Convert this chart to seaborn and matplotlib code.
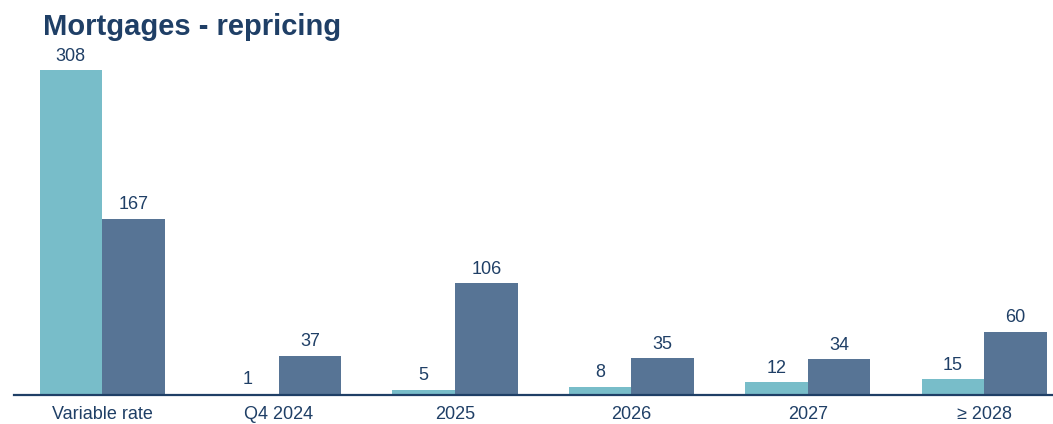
import matplotlib
matplotlib.use("Agg")
import matplotlib.pyplot as plt
import seaborn as sns
import pandas as pd

categories = ["Variable rate", "Q4 2024", "2025", "2026", "2027", "\u2265 2028"]
series_names = ["Series A", "Series B"]
series_a = [308, 1, 5, 8, 12, 15]
series_b = [167, 37, 106, 35, 34, 60]

LIGHT = "#78BDC9"
DARK = "#577495"
NAVY = "#1F3F66"

sns.set_theme(style="white")
plt.rcParams["font.family"] = ["Liberation Sans", "DejaVu Sans"]

df = pd.DataFrame({
    "category": categories * 2,
    "series": [series_names[0]] * len(categories) + [series_names[1]] * len(categories),
    "value": series_a + series_b,
})

W, H = 1053, 424
fig = plt.figure(figsize=(W / 100, H / 100), dpi=100)
left_px, base_px, top_px = 14, 395, 30
ax = fig.add_axes([left_px / W, 1 - base_px / H, (W - left_px) / W, (base_px - top_px) / H])

sns.barplot(data=df, x="category", y="value", hue="series", order=categories,
            hue_order=series_names, palette=[LIGHT, DARK], width=0.71, gap=0,
            saturation=1, legend=False, ax=ax, linewidth=0)

for container in ax.containers:
    ax.bar_label(container, fmt="%d", padding=4, fontsize=13, color=NAVY)

ax.set_xlim(-0.5, -0.5 + (W - left_px) / 176.4)
ax.set_ylim(0, (base_px - top_px) / 1.055)
ax.set_xlabel("")
ax.set_ylabel("")
ax.set_yticks([])
for side in ["top", "right", "left"]:
    ax.spines[side].set_visible(False)
ax.spines["bottom"].set_color(NAVY)
ax.spines["bottom"].set_linewidth(1.6)
ax.tick_params(axis="x", length=0, pad=8, labelsize=13, labelcolor=NAVY)

fig.text(43 / W, 1 - 35 / H, "Mortgages - repricing", fontsize=21, fontweight="bold",
         color=NAVY, ha="left", va="baseline")

fig.savefig("out.png", dpi=100)
